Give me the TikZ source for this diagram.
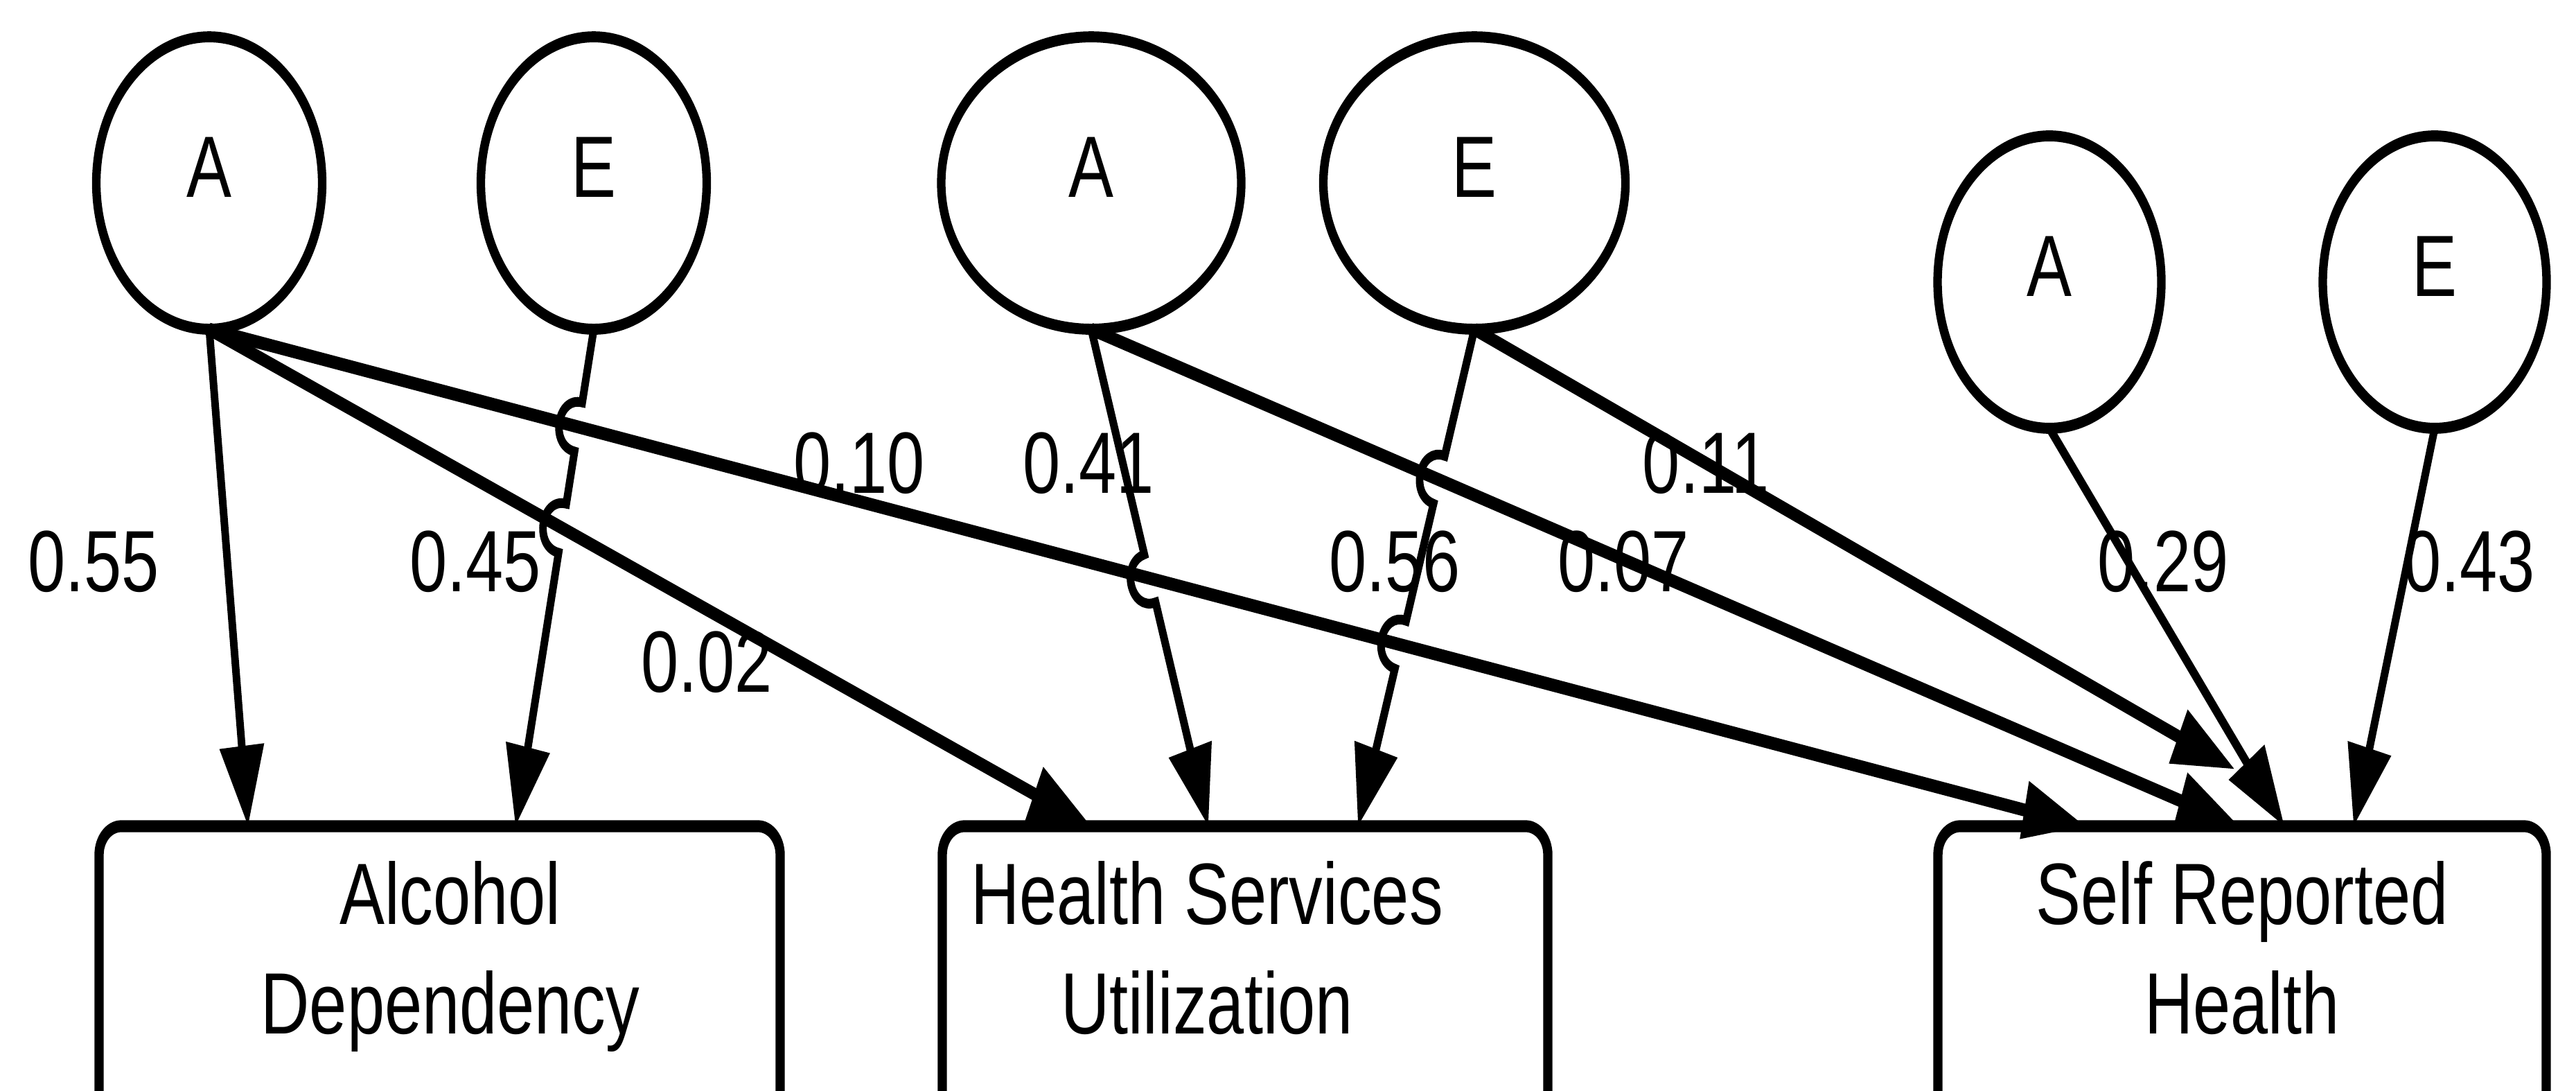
\documentclass[tikz,border=0pt]{standalone}
\usepackage{fontspec}
\setmainfont{Liberation Sans}
\usetikzlibrary{arrows.meta,shapes.geometric,calc,intersections}
\begin{document}
\begin{tikzpicture}[
  every node/.style={font=\fontsize{27.7pt}{34.9pt}\selectfont},
  latent/.style={draw, ellipse, line width=3.5pt, inner sep=0pt, outer sep=0pt,
    minimum height=3.27cm, text depth=0.356cm},
  obs/.style={draw, rectangle, rounded corners=0.32cm, line width=3.8pt,
    inner sep=0pt, outer sep=0pt, minimum height=4.5cm, anchor=north west},
  link/.style={line width=3.1pt, -{Triangle[length=0.9cm,width=0.62cm]}},
  crosslink/.style={link, line width=4.1pt},
  coef/.style={inner sep=0pt},
  boxtext/.style={align=center, inner sep=0pt},
  hop/.style 2 args={insert path={-- (#1) .. controls ($(#1)!0.667!-90:(#2)$) and ($(#2)!0.667!90:(#1)$) .. (#2)}},
]
\clip (0,0) rectangle (37.18,-15.74);
\begin{scope}[transform canvas={yscale=1.29}]
% latent variables
\node[latent, minimum width=3.26cm] (A1) at (3.02,-2.047) {A};
\node[latent, minimum width=3.26cm] (E1) at (8.57,-2.047) {E};
\node[latent, minimum width=4.33cm] (A2) at (15.75,-2.047) {A};
\node[latent, minimum width=4.36cm] (E2) at (21.28,-2.047) {E};
\node[latent, minimum width=3.23cm] (A3) at (29.58,-3.155) {A};
\node[latent, minimum width=3.23cm] (E3) at (35.14,-3.155) {E};
% observed variables
\node[obs, minimum width=9.83cm] (AD) at (1.43,-9.24) {};
\node[obs, minimum width=8.74cm] (HSU) at (13.60,-9.24) {};
\node[obs, minimum width=8.78cm] (SRH) at (27.97,-9.24) {};
\node[boxtext] (tAD) at (6.50,-10.697) {Alcohol\\Dependency};
\node[boxtext] (tHSU) at (17.42,-10.60) {Health Services\\Utilization};
\node[boxtext] (tSRH) at (32.36,-10.60) {Self Reported\\Health};
% targets
\coordinate (tA1AD) at ([xshift=2.15cm]AD.north west);
\coordinate (tE1AD) at ([xshift=6.01cm]AD.north west);
\coordinate (tA1HSU) at ([xshift=2.15cm]HSU.north west);
\coordinate (tA2HSU) at ([xshift=3.84cm]HSU.north west);
\coordinate (tE2HSU) at ([xshift=6.00cm]HSU.north west);
\coordinate (tA1SRH) at ([xshift=2.13cm]SRH.north west);
\coordinate (tA2SRH) at ([xshift=4.35cm]SRH.north west);
\coordinate (tA3SRH) at ([xshift=5.00cm]SRH.north west);
\coordinate (tE3SRH) at ([xshift=6.00cm]SRH.north west);
\coordinate (tE2SRH) at (32.26,-8.605);
% crossing computations
\path[name path=pA1S] (A1.south) -- (tA1SRH);
\path[name path=pA1H] (A1.south) -- (tA1HSU);
\path[name path=pA2S] (A2.south) -- (tA2SRH);
\path[name path=pE1A] (E1.south) -- (tE1AD);
\path[name path=pA2H] (A2.south) -- (tA2HSU);
\path[name path=pE2H] (E2.south) -- (tE2HSU);
\path[name intersections={of=pE1A and pA1S, by=xa}];
\path[name intersections={of=pE1A and pA1H, by=xb}];
\path[name intersections={of=pA2H and pA1S, by=xc}];
\path[name intersections={of=pE2H and pA2S, by=xd}];
\path[name intersections={of=pE2H and pA1S, by=xe}];
\coordinate (xa1) at ($(xa)!0.28cm!(E1.south)$);
\coordinate (xa2) at ($(xa)!0.28cm!(tE1AD)$);
\coordinate (xb1) at ($(xb)!0.28cm!(E1.south)$);
\coordinate (xb2) at ($(xb)!0.28cm!(tE1AD)$);
\coordinate (xc1) at ($(xc)!0.28cm!(A2.south)$);
\coordinate (xc2) at ($(xc)!0.28cm!(tA2HSU)$);
\coordinate (xd1) at ($(xd)!0.28cm!(E2.south)$);
\coordinate (xd2) at ($(xd)!0.28cm!(tE2HSU)$);
\coordinate (xe1) at ($(xe)!0.28cm!(E2.south)$);
\coordinate (xe2) at ($(xe)!0.28cm!(tE2HSU)$);
% connectors
\draw[link] (A1.south) -- (tA1AD);
\draw[link] (E1.south) [hop={xa1}{xa2}] [hop={xb1}{xb2}] -- (tE1AD);
\draw[crosslink] (A1.south) -- (tA1HSU);
\draw[link] (A2.south) [hop={xc1}{xc2}] -- (tA2HSU);
\draw[link] (E2.south) [hop={xd1}{xd2}] [hop={xe1}{xe2}] -- (tE2HSU);
\draw[crosslink] (A1.south) -- (tA1SRH);
\draw[crosslink] (A2.south) -- (tA2SRH);
\draw[crosslink] (E2.south) -- (tE2SRH);
\draw[link] (A3.south) -- (tA3SRH);
\draw[link] (E3.south) -- (tE3SRH);
% coefficients
\node[coef] (c1) at (1.35,-6.279) {0.55};
\node[coef] (c2) at (6.86,-6.279) {0.45};
\node[coef] (c3) at (10.20,-7.403) {0.02};
\node[coef] (c4) at (12.40,-5.178) {0.10};
\node[coef] (c5) at (15.71,-5.178) {0.41};
\node[coef] (c6) at (24.62,-5.178) {0.11};
\node[coef] (c7) at (20.13,-6.279) {0.56};
\node[coef] (c8) at (23.43,-6.279) {0.07};
\node[coef] (c9) at (31.22,-6.279) {0.29};
\node[coef] (c10) at (35.64,-6.279) {0.43};
\end{scope}
\end{tikzpicture}
\end{document}
